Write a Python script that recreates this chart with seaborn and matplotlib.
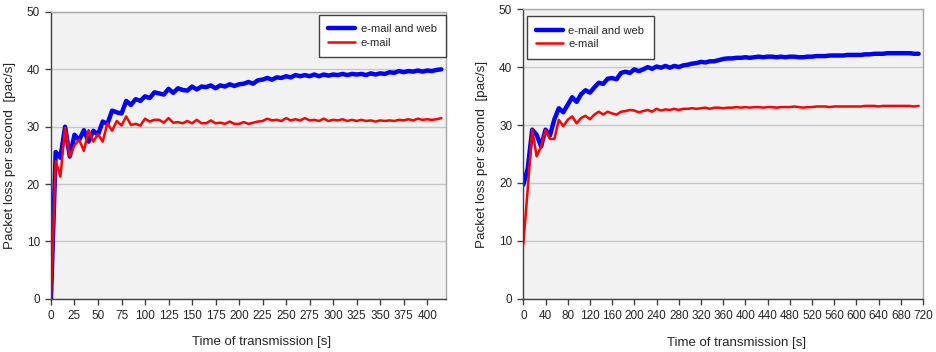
import matplotlib as mpl
mpl.use('agg')
import matplotlib.pyplot as plt
from matplotlib.ticker import MultipleLocator
import numpy as np
import seaborn as sns

# left panel: sampled every 5 s
t_left = np.arange(0, 420, 5)
web_left = [0, 25.6, 24.6, 30.0, 24.8, 28.6, 27.7, 29.4, 27.4, 29.3,
            28.6, 30.9, 30.5, 32.8, 32.5, 32.3, 34.5, 33.8, 34.8, 34.5,
            35.3, 35.0, 36.0, 35.8, 35.6, 36.6, 35.9, 36.7, 36.4, 36.3,
            37.0, 36.5, 37.0, 36.9, 37.2, 36.7, 37.2, 37.0, 37.4, 37.1,
            37.4, 37.5, 37.8, 37.5, 38.1, 38.2, 38.5, 38.2, 38.6, 38.5,
            38.8, 38.6, 39.0, 38.8, 39.0, 38.8, 39.1, 38.8, 39.1, 38.9,
            39.1, 39.0, 39.2, 39.0, 39.2, 39.1, 39.2, 39.0, 39.3, 39.1,
            39.3, 39.2, 39.5, 39.4, 39.7, 39.5, 39.7, 39.6, 39.8, 39.6,
            39.8, 39.7, 39.9, 40.0]
mail_left = [0, 24.0, 21.3, 29.8, 24.8, 26.8, 27.7, 25.8, 29.4, 27.4,
             28.7, 27.4, 30.6, 29.3, 31.0, 30.2, 31.8, 30.3, 30.5, 30.2,
             31.4, 30.9, 31.2, 31.2, 30.7, 31.5, 30.7, 30.8, 30.6, 31.0,
             30.6, 31.2, 30.6, 30.6, 31.1, 30.6, 30.7, 30.5, 30.9, 30.5,
             30.5, 30.8, 30.5, 30.7, 30.9, 31.0, 31.4, 31.1, 31.2, 31.0,
             31.5, 31.1, 31.3, 31.1, 31.5, 31.1, 31.2, 31.0, 31.4, 31.0,
             31.2, 31.1, 31.3, 31.0, 31.2, 31.0, 31.2, 31.0, 31.1, 30.9,
             31.1, 31.0, 31.1, 31.0, 31.2, 31.1, 31.3, 31.1, 31.4, 31.2,
             31.3, 31.2, 31.3, 31.5]

# right panel: sampled every 8 s
t_right = np.arange(0, 720, 8)
web_right = [19.7, 22.5, 29.2, 28.3, 26.3, 29.2, 28.2, 31.0, 32.9, 32.2,
             33.5, 34.8, 34.0, 35.3, 36.0, 35.6, 36.5, 37.3, 37.1, 38.0,
             38.1, 37.9, 39.0, 39.2, 39.0, 39.6, 39.3, 39.6, 40.0, 39.7,
             40.1, 39.9, 40.2, 39.9, 40.2, 40.0, 40.3, 40.4, 40.6, 40.7,
             40.9, 40.8, 41.0, 41.0, 41.2, 41.4, 41.5, 41.5, 41.6, 41.6,
             41.7, 41.6, 41.7, 41.8, 41.7, 41.8, 41.8, 41.7, 41.8, 41.7,
             41.8, 41.8, 41.7, 41.7, 41.8, 41.8, 41.9, 41.9, 41.9, 42.0,
             42.0, 42.0, 42.0, 42.1, 42.1, 42.1, 42.1, 42.2, 42.2, 42.3,
             42.3, 42.3, 42.4, 42.4, 42.4, 42.4, 42.4, 42.4, 42.3, 42.3]
mail_right = [9.4, 19.0, 29.2, 24.6, 26.3, 29.1, 27.6, 27.6, 30.9, 29.8,
              30.9, 31.5, 30.3, 31.2, 31.6, 31.0, 31.8, 32.3, 31.8, 32.3,
              32.0, 31.8, 32.3, 32.4, 32.6, 32.5, 32.2, 32.4, 32.6, 32.3,
              32.8, 32.5, 32.7, 32.6, 32.8, 32.6, 32.8, 32.8, 32.9, 32.8,
              32.9, 33.0, 32.8, 33.0, 33.0, 32.9, 33.0, 33.0, 33.1, 33.0,
              33.1, 33.0, 33.1, 33.1, 33.0, 33.1, 33.1, 33.0, 33.1, 33.1,
              33.1, 33.2, 33.1, 33.0, 33.1, 33.1, 33.2, 33.2, 33.2, 33.1,
              33.2, 33.2, 33.2, 33.2, 33.2, 33.2, 33.2, 33.3, 33.3, 33.3,
              33.2, 33.3, 33.3, 33.3, 33.3, 33.3, 33.3, 33.3, 33.2, 33.3]

series_labels = ["e-mail and web", "e-mail"]
x_label = "Time of transmission [s]"
y_label = "Packet loss per second  [pac/s]"

sns.set_style("ticks")
plt.rcParams['font.family'] = ['Liberation Sans', 'DejaVu Sans']

fig = plt.figure(figsize=(9.37, 3.52), dpi=100)
ax1 = fig.add_axes([0.0544, 0.151, 0.4216, 0.815])
ax2 = fig.add_axes([0.5585, 0.151, 0.4266, 0.823])

panels = [
    (ax1, t_left, web_left, mail_left, 420, 25, 100, "upper right", (1.0, 0.99)),
    (ax2, t_right, web_right, mail_right, 720, 40, 200, "upper left", (0.008, 0.975)),
]

for ax, t, web, mail, xmax, step, gstep, loc, anchor in panels:
    ax.set_facecolor('#f2f2f2')
    sns.lineplot(x=t, y=web, ax=ax, color='#0000ff', lw=3.2, label=series_labels[0])
    sns.lineplot(x=t, y=mail, ax=ax, color='#ff0000', lw=1.8, label=series_labels[1])
    ax.set_xlim(0, xmax)
    ax.set_ylim(0, 50)
    ax.set_xticks(np.arange(0, xmax + 1, step))
    ax.set_yticks(np.arange(0, 51, 10))
    ax.xaxis.set_minor_locator(MultipleLocator(gstep))
    ax.tick_params(axis='x', which='minor', length=0)
    ax.grid(axis='y', which='major', color='#c8c8c8', lw=1)
    ax.grid(axis='x', which='minor', color='#c8c8c8', lw=1)
    ax.set_axisbelow(True)
    ax.tick_params(axis='both', which='major', labelsize=8.5, length=4, width=1,
                   color='#404040', pad=4)
    for side in ['left', 'bottom']:
        ax.spines[side].set_color('#404040')
        ax.spines[side].set_linewidth(1)
    for side in ['top', 'right']:
        ax.spines[side].set_visible(True)
        ax.spines[side].set_color('#a8a8a8')
        ax.spines[side].set_linewidth(1)
    ax.set_xlabel(x_label, fontsize=9.5)
    ax.xaxis.set_label_coords(0.533, -0.13)
    ax.set_ylabel(y_label, fontsize=9.7, labelpad=8)
    leg = ax.legend(loc=loc, bbox_to_anchor=anchor, borderaxespad=0, fontsize=8,
                    frameon=True, fancybox=False, handlelength=2.4,
                    handletextpad=0.5, borderpad=0.85, labelspacing=0.3)
    leg.get_frame().set_edgecolor('#404040')
    leg.get_frame().set_linewidth(1)
    leg.get_frame().set_facecolor('white')
    leg.get_frame().set_alpha(1)

fig.savefig("out.png", dpi=100)
